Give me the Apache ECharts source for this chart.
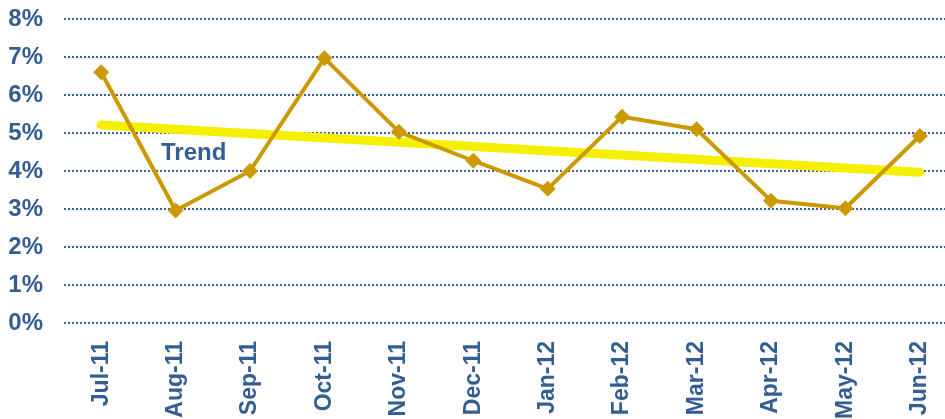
<!DOCTYPE html>
<html>
<head>
<meta charset="utf-8">
<script src="https://cdn.jsdelivr.net/npm/echarts@6/dist/echarts.min.js"></script>
<style>
html,body{margin:0;padding:0;background:#fff;}
#chart{width:945px;height:419px;}
</style>
</head>
<body>
<div id="chart"></div>
<script>
var categories = ['Jul-11','Aug-11','Sep-11','Oct-11','Nov-11','Dec-11','Jan-12','Feb-12','Mar-12','Apr-12','May-12','Jun-12'];
var rateValues = [6.6, 2.96, 4.0, 6.97, 5.03, 4.27, 3.53, 5.43, 5.1, 3.22, 3.02, 4.92];
var trendValues = [5.21, null, null, null, null, null, null, null, null, null, null, 3.97];
var trendLabel = 'Trend';

var blue = '#325E94';
var chart = echarts.init(document.getElementById('chart'));
chart.setOption({
  animation: false,
  backgroundColor: '#ffffff',
  grid: { left: 64, width: 893, top: 19, bottom: 96, outerBoundsMode: 'none', containLabel: false },
  xAxis: {
    type: 'category',
    data: categories,
    boundaryGap: true,
    axisLine: { show: false },
    axisTick: { show: false },
    axisLabel: {
      rotate: 90,
      margin: 18,
      color: blue,
      fontFamily: 'Liberation Sans, Arial, sans-serif',
      fontWeight: 'bold',
      fontSize: 23
    }
  },
  yAxis: {
    type: 'value',
    min: 0,
    max: 8,
    interval: 1,
    axisLine: { show: false },
    axisTick: { show: false },
    axisLabel: {
      formatter: '{value}%',
      margin: 21,
      color: blue,
      fontFamily: 'Liberation Sans, Arial, sans-serif',
      fontWeight: 'bold',
      fontSize: 24
    },
    splitLine: {
      lineStyle: { color: '#3A629C', width: 2, type: [2, 2] }
    }
  },
  graphic: [{
    type: 'text',
    left: 161,
    top: 141,
    style: {
      text: trendLabel,
      fill: blue,
      font: 'bold 24px "Liberation Sans", Arial, sans-serif'
    }
  }],
  series: [
    {
      type: 'line',
      data: trendValues,
      connectNulls: true,
      symbol: 'none',
      z: 2,
      lineStyle: { color: '#F5EF00', width: 9, cap: 'round' }
    },
    {
      type: 'line',
      data: rateValues,
      symbol: 'diamond',
      symbolSize: 16,
      z: 3,
      itemStyle: { color: '#CC9900' },
      lineStyle: { color: '#CC9900', width: 4 }
    }
  ]
});
</script>
</body>
</html>
